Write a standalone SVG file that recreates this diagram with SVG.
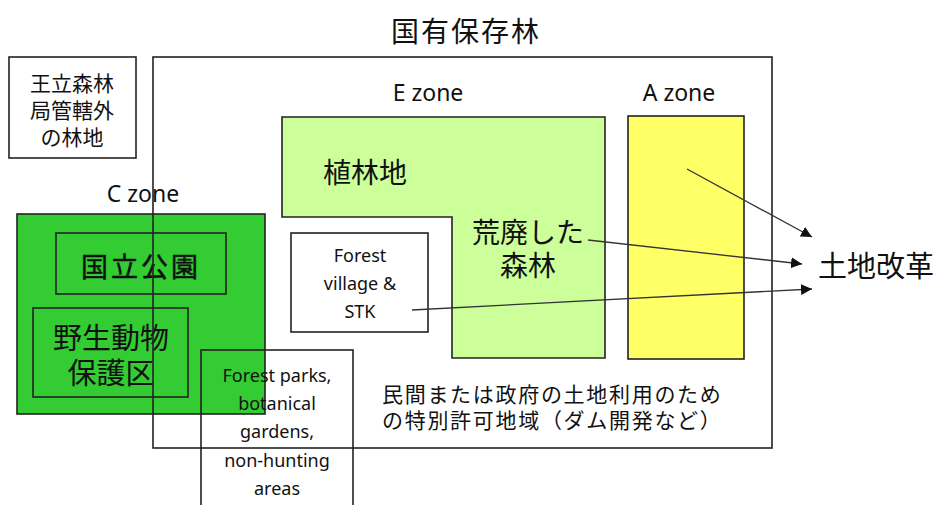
<svg xmlns="http://www.w3.org/2000/svg" width="937" height="505" viewBox="0 0 937 505">
<style>
.box{fill:none;stroke:#222;stroke-width:1.6}
.jp{font-family:"Noto Sans CJK JP","Noto Sans",sans-serif;fill:#111}
.en{font-family:"Noto Sans","Liberation Sans",sans-serif;fill:#111}
.c{text-anchor:middle}
.conn{stroke:#333;stroke-width:1.3;fill:none;marker-end:url(#ah)}
</style>
<defs>
<marker id="ah" viewBox="0 0 10 10" refX="10" refY="5" markerWidth="11" markerHeight="11" markerUnits="userSpaceOnUse" orient="auto">
<path d="M0,0 L10,5 L0,10 z" fill="#111"/>
</marker>
</defs>
<rect width="937" height="505" fill="#fff"/>
<g id="title"><text class="jp c" x="466" y="42" font-size="28" letter-spacing="2">国有保存林</text></g>
<g id="royal-outside">
<rect class="box" x="9" y="57" width="127" height="101" fill="#fff"/>
<text class="jp c" x="72" y="91" font-size="21">王立森林</text>
<text class="jp c" x="72" y="118" font-size="21">局管轄外</text>
<text class="jp c" x="72" y="145" font-size="21">の林地</text>
</g>
<g id="c-zone">
<rect x="17" y="214" width="248" height="200" fill="#33cc33" stroke="#222" stroke-width="1.6"/>
<text class="en c" x="143" y="202" font-size="23">C zone</text>
</g>
<g id="national-park">
<rect class="box" x="56" y="233" width="170" height="61"/>
<text class="jp c" x="141" y="277" font-size="27" letter-spacing="3" stroke="#111" stroke-width="0.5">国立公園</text>
</g>
<g id="wildlife">
<rect class="box" x="33" y="308" width="155" height="89"/>
<text class="jp c" x="111" y="349" font-size="29">野生動物</text>
<text class="jp c" x="111" y="384" font-size="29">保護区</text>
</g>
<g id="e-zone">
<path d="M282,117 H605 V358 H452 V217 H282 Z" fill="#ccff99" stroke="#222" stroke-width="1.6"/>
<text class="en c" x="428" y="101" font-size="23">E zone</text>
<text class="jp" x="323" y="183" font-size="28">植林地</text>
<text class="jp c" x="528" y="243" font-size="28">荒廃した</text>
<text class="jp c" x="528" y="276" font-size="28">森林</text>
</g>
<g id="a-zone">
<rect x="628" y="116" width="116" height="243" fill="#ffff66" stroke="#222" stroke-width="1.6"/>
<text class="en c" x="679" y="101" font-size="23">A zone</text>
</g>
<g id="forest-village">
<rect class="box" x="291" y="233" width="137" height="99" fill="#fff"/>
<text class="en c" x="360" y="262" font-size="18">Forest</text>
<text class="en c" x="360" y="290" font-size="18">village &amp;</text>
<text class="en c" x="360" y="318" font-size="18">STK</text>
</g>
<g id="forest-parks">
<rect class="box" x="201" y="350" width="152" height="170"/>
<text class="en c" x="277" y="382" font-size="18">Forest parks,</text>
<text class="en c" x="277" y="410" font-size="18">botanical</text>
<text class="en c" x="277" y="438" font-size="18">gardens,</text>
<text class="en c" x="277" y="467" font-size="18">non-hunting</text>
<text class="en c" x="277" y="495" font-size="18">areas</text>
</g>
<g id="reserved-forest">
<rect class="box" x="153" y="57" width="619" height="391"/>
<text class="jp" x="382" y="402" font-size="21" letter-spacing="1.7">民間または政府の土地利用のため</text>
<text class="jp" x="382" y="428" font-size="21" letter-spacing="1.7">の特別許可地域（ダム開発など）</text>
</g>
<g id="land-reform">
<text class="jp" x="818" y="277" font-size="29">土地改革</text>
</g>
<g id="connectors">
<line class="conn" x1="687" y1="169" x2="812" y2="237"/>
<line class="conn" x1="588" y1="240" x2="802" y2="264"/>
<line class="conn" x1="412" y1="310" x2="812" y2="289"/>
</g>
</svg>
